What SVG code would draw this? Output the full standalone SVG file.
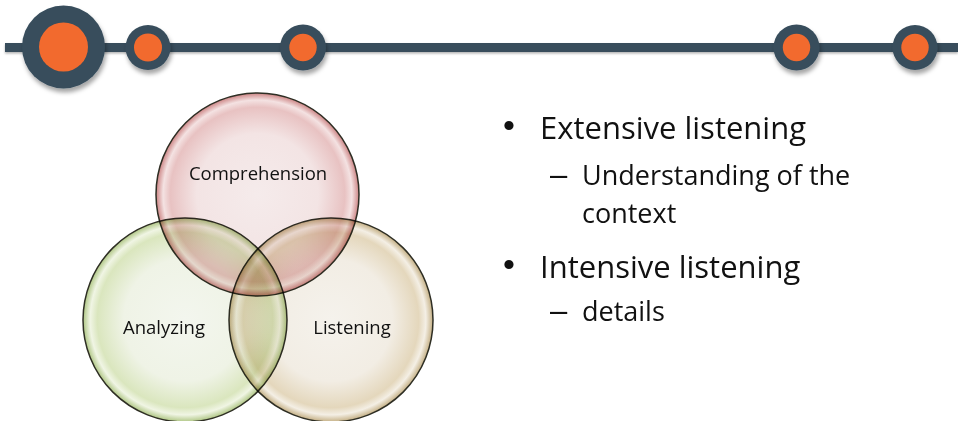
<svg xmlns="http://www.w3.org/2000/svg" width="958" height="421" viewBox="0 0 958 421">
<style>
.track{fill:#374d5c}
.ring{fill:#374d5c}
.dot{fill:#f26a2e}
.lbl{font-family:"Open Sans","Liberation Sans",sans-serif;font-size:18.5px;fill:#111;text-anchor:middle}
.main{font-family:"Open Sans","Liberation Sans",sans-serif;font-size:31px;fill:#111}
.sub{font-family:"Open Sans","Liberation Sans",sans-serif;font-size:27px;fill:#111}
.bul{font-family:"Liberation Sans",Arial,sans-serif;font-size:34px;fill:#111}
.dash{font-family:"Liberation Sans",Arial,sans-serif;font-size:31px;fill:#111}
.venn{stroke:#2e2e24;stroke-width:1.5;mix-blend-mode:multiply}
</style>
<defs>
<filter id="sh" x="-30%" y="-30%" width="170%" height="170%">
<feDropShadow dx="1.5" dy="4" stdDeviation="2.2" flood-color="#000" flood-opacity="0.35"/>
</filter>
<filter id="shl" x="-1%" y="-50%" width="102%" height="250%">
<feDropShadow dx="0" dy="1.5" stdDeviation="0.8" flood-color="#000" flood-opacity="0.3"/>
</filter>
<radialGradient id="gTop" cx="50%" cy="50%" r="50%">
<stop offset="0" stop-color="#f5ebeb"/>
<stop offset="0.6" stop-color="#f3e4e4"/>
<stop offset="0.86" stop-color="#e8c2c2"/>
<stop offset="0.93" stop-color="#f4e2e2"/>
<stop offset="1" stop-color="#cc8484"/>
</radialGradient>
<radialGradient id="gLeft" cx="50%" cy="50%" r="50%">
<stop offset="0" stop-color="#f3f6ee"/>
<stop offset="0.6" stop-color="#eff3e6"/>
<stop offset="0.86" stop-color="#dae6be"/>
<stop offset="0.93" stop-color="#f0f5e4"/>
<stop offset="1" stop-color="#afc684"/>
</radialGradient>
<radialGradient id="gRight" cx="50%" cy="50%" r="50%">
<stop offset="0" stop-color="#f5f2ec"/>
<stop offset="0.6" stop-color="#f2ede4"/>
<stop offset="0.86" stop-color="#e4d7bc"/>
<stop offset="0.93" stop-color="#f4efe5"/>
<stop offset="1" stop-color="#c4af84"/>
</radialGradient>
</defs>
<rect width="958" height="421" fill="#fff"/>
<g id="connectors">
<rect class="track" x="5" y="43" width="953" height="9" filter="url(#shl)"/>
</g>
<g id="milestone1" filter="url(#sh)">
<circle class="ring" cx="63.5" cy="47" r="41.5"/>
<circle class="dot" cx="63.5" cy="47" r="24.5"/>
</g>
<g id="milestone2" filter="url(#sh)">
<circle class="ring" cx="148" cy="47.5" r="22.5"/>
<circle class="dot" cx="148" cy="47.5" r="14"/>
</g>
<g id="milestone3" filter="url(#sh)">
<circle class="ring" cx="303" cy="47.5" r="23"/>
<circle class="dot" cx="303" cy="47.5" r="13.7"/>
</g>
<g id="milestone4" filter="url(#sh)">
<circle class="ring" cx="796.5" cy="47.5" r="23"/>
<circle class="dot" cx="796.5" cy="47.5" r="13.7"/>
</g>
<g id="milestone5" filter="url(#sh)">
<circle class="ring" cx="915" cy="47.5" r="22.5"/>
<circle class="dot" cx="915" cy="47.5" r="13.7"/>
</g>
<g id="comprehension">
<circle class="venn" cx="257.5" cy="194.5" r="101.5" fill="url(#gTop)"/>
</g>
<g id="analyzing">
<circle class="venn" cx="185" cy="320" r="102" fill="url(#gLeft)"/>
</g>
<g id="listening">
<circle class="venn" cx="331" cy="320" r="102" fill="url(#gRight)"/>
</g>
<g id="labels">
<text class="lbl" x="258" y="180">Comprehension</text>
<text class="lbl" x="164" y="334">Analyzing</text>
<text class="lbl" x="352" y="334">Listening</text>
</g>
<g id="bullets">
<text class="bul" x="503" y="137">•</text>
<text class="main" x="540" y="139">Extensive listening</text>
<text class="dash" x="550" y="185">–</text>
<text class="sub" x="582" y="185">Understanding of the</text>
<text class="sub" x="582" y="223">context</text>
<text class="bul" x="503" y="276">•</text>
<text class="main" x="540" y="278">Intensive listening</text>
<text class="dash" x="550" y="321">–</text>
<text class="sub" x="582" y="321">details</text>
</g>
</svg>
